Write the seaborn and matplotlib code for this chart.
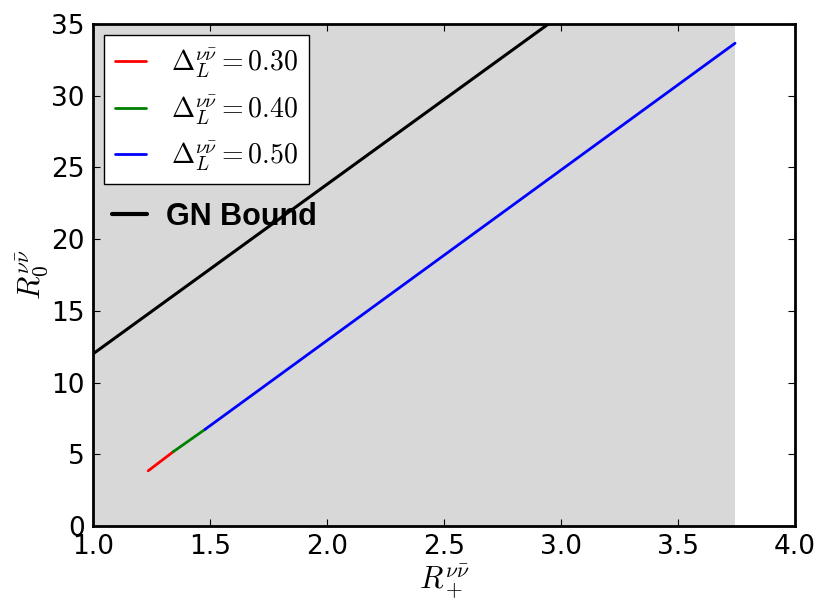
import matplotlib
matplotlib.use("Agg")
import matplotlib.pyplot as plt
from matplotlib.lines import Line2D
import pandas as pd
import seaborn as sns

# Segment end points of each curve
x_red = [1.236, 1.343]
y_red = [3.85, 5.18]
x_green = [1.343, 1.479]
y_green = [5.18, 6.74]
x_blue = [1.479, 3.744]
y_blue = [6.74, 33.66]
x_gn = [1.0, 2.946]
y_gn = [12.0, 35.0]

# Allowed region (shaded)
region_x = [1.0, 3.744]

series_labels = [r"$\Delta_L^{\nu\bar{\nu}}=0.30$",
                 r"$\Delta_L^{\nu\bar{\nu}}=0.40$",
                 r"$\Delta_L^{\nu\bar{\nu}}=0.50$"]
series_colors = ["#ff0000", "#008000", "#0000ff"]
x_ticks = [1.0, 1.5, 2.0, 2.5, 3.0, 3.5, 4.0]
y_ticks = [0, 5, 10, 15, 20, 25, 30, 35]

sns.set_style("ticks")
plt.rcParams["font.family"] = ["DejaVu Sans"]
plt.rcParams["mathtext.fontset"] = "cm"
plt.rcParams["xtick.direction"] = "in"
plt.rcParams["ytick.direction"] = "in"
plt.rcParams["text.color"] = "black"
plt.rcParams["axes.labelcolor"] = "black"
plt.rcParams["xtick.color"] = "black"
plt.rcParams["ytick.color"] = "black"

fig = plt.figure(figsize=(8.21, 6.03), dpi=100)
ax = fig.add_axes([0.1133, 0.1277, 0.8550, 0.8325])

ax.axvspan(region_x[0], region_x[1], color="#d8d8d8", lw=0, zorder=0)

segments = [(x_red, y_red), (x_green, y_green), (x_blue, y_blue)]
for (xs, ys), c in zip(segments, series_colors):
    df = pd.DataFrame({"x": xs, "y": ys})
    sns.lineplot(data=df, x="x", y="y", color=c, lw=2.0, ax=ax,
                 legend=False, zorder=3)
df_gn = pd.DataFrame({"x": x_gn, "y": y_gn})
sns.lineplot(data=df_gn, x="x", y="y", color="black", lw=2.2, ax=ax,
             legend=False, zorder=3)

ax.set_xlim(1.0, 4.0)
ax.set_ylim(0, 35)
ax.set_xticks(x_ticks)
ax.set_xticklabels([f"{t:.1f}" for t in x_ticks])
ax.set_yticks(y_ticks)
ax.tick_params(axis="both", which="major", labelsize=19, length=5,
               width=0.8, colors="black", top=True, right=True, pad=6)
for s in ax.spines.values():
    s.set_linewidth(2.0)
    s.set_color("black")

ax.set_xlabel(r"$R_+^{\nu\bar{\nu}}$", fontsize=22, labelpad=2,
              color="black")
ax.set_ylabel(r"$R_0^{\nu\bar{\nu}}$", fontsize=22, labelpad=0,
              color="black")

handles = [Line2D([0], [0], color=c, lw=2.0) for c in series_colors]
leg1 = ax.legend(handles, series_labels, loc="upper left", fontsize=20,
                 frameon=True, fancybox=False, edgecolor="black",
                 framealpha=1.0, handlelength=1.1, handletextpad=0.9,
                 borderaxespad=0.4, labelspacing=0.45,
                 bbox_to_anchor=(0.0, 1.0))
leg1.get_frame().set_linewidth(1.0)
for t in leg1.get_texts():
    t.set_color("black")
ax.add_artist(leg1)

gn_handle = [Line2D([0], [0], color="black", lw=3.0)]
leg2 = ax.legend(gn_handle, ["GN Bound"], loc="upper left", frameon=False,
                 prop={"family": "Liberation Sans", "weight": "bold",
                       "size": 22},
                 handlelength=1.15, handletextpad=0.62,
                 bbox_to_anchor=(-0.012, 0.70))
for t in leg2.get_texts():
    t.set_color("black")

fig.savefig("out.png", dpi=100)
